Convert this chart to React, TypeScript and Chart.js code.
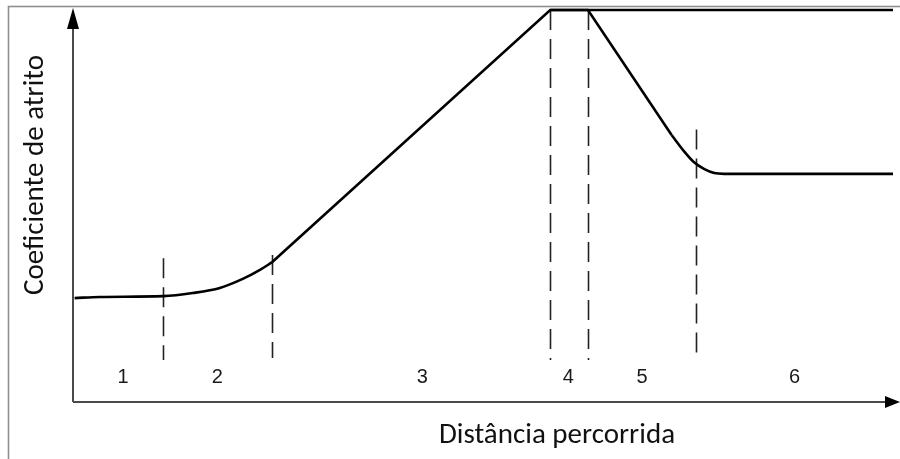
import React, { useEffect, useRef } from "react";
import { Chart, registerables } from "chart.js";

Chart.register(...registerables);

// Friction coefficient vs. distance travelled (arbitrary units: x 0..100, y 0..1)
const riseX = [0.2, 3.3, 11.0, 14.6, 17.9, 20.7, 22.8, 24.3];
const riseY = [0.265, 0.268, 0.27, 0.278, 0.291, 0.314, 0.337, 0.357];

const rampX = [24.3, 58.2, 62.8, 73.0];
const rampY = [0.357, 1.0, 1.0, 0.681];

const settleX = [73.0, 74.5, 75.7, 77.0, 78.2, 79.4, 100];
const settleY = [0.681, 0.64, 0.612, 0.594, 0.584, 0.582, 0.582];

const peakX = [58.2, 100];
const peakY = [1.0, 1.0];

// Stage boundaries (dashed verticals)
const dividerX = [11.0, 24.3, 58.2, 62.8, 76.0];
const dividerTop = [0.367, 0.375, 1.0, 1.0, 0.695];
const dividerBottom = [0.107, 0.112, 0.107, 0.107, 0.107];

// Stage numbers
const stageLabels = ["1", "2", "3", "4", "5", "6"];
const stageX = [6.1, 17.6, 42.6, 60.4, 69.4, 88.0];
const stageY = 0.062;

const yTitle = "Coeficiente de atrito";
const xTitle = "Distância percorrida";

const toPoints = (xs: number[], ys: number[]) => xs.map((x, i) => ({ x, y: ys[i] }));

const titleFont = '29px Calibri, Carlito, "Open Sans", sans-serif';

const decorPlugin = {
  id: "decor",
  beforeDatasetsDraw(chart: any) {
    const { ctx, chartArea, scales } = chart;
    const xs = scales.x;
    const ys = scales.y;
    ctx.save();
    // outer frame
    ctx.strokeStyle = "#8e8e8e";
    ctx.lineWidth = 1.6;
    ctx.strokeRect(8.5, 6.5, 1000, 1000);

    // dashed stage dividers
    ctx.strokeStyle = "#222";
    ctx.lineWidth = 1.6;
    ctx.setLineDash([20, 9]);
    dividerX.forEach((dx, i) => {
      const px = Math.round(xs.getPixelForValue(dx)) + 0.5;
      ctx.beginPath();
      ctx.moveTo(px, ys.getPixelForValue(dividerTop[i]));
      ctx.lineTo(px, ys.getPixelForValue(dividerBottom[i]));
      ctx.stroke();
    });
    ctx.setLineDash([]);

    // axes with arrowheads
    const ox = chartArea.left;
    const oy = chartArea.bottom;
    ctx.strokeStyle = "#4a4a4a";
    ctx.lineWidth = 2;
    ctx.beginPath();
    ctx.moveTo(ox, oy);
    ctx.lineTo(ox, 26);
    ctx.moveTo(ox, oy);
    ctx.lineTo(887, oy);
    ctx.stroke();
    ctx.fillStyle = "#000";
    ctx.beginPath();
    ctx.moveTo(ox, 8);
    ctx.lineTo(ox - 6, 29);
    ctx.lineTo(ox + 6, 29);
    ctx.closePath();
    ctx.fill();
    ctx.beginPath();
    ctx.moveTo(900, oy);
    ctx.lineTo(885, oy - 6);
    ctx.lineTo(885, oy + 6);
    ctx.closePath();
    ctx.fill();

    // stage numbers
    ctx.fillStyle = "#1a1a1a";
    ctx.font = '20px "Liberation Sans", Arial, sans-serif';
    ctx.textAlign = "center";
    ctx.textBaseline = "middle";
    stageLabels.forEach((t, i) => {
      ctx.fillText(t, xs.getPixelForValue(stageX[i]), ys.getPixelForValue(stageY));
    });

    // axis titles
    ctx.fillStyle = "#111";
    ctx.font = titleFont;
    ctx.fillText(xTitle, 557, 436);
    ctx.translate(36, 175);
    ctx.rotate(-Math.PI / 2);
    ctx.fillText(yTitle, 0, 0);
    ctx.restore();
  },
};

export default function App() {
  const canvasRef = useRef<HTMLCanvasElement | null>(null);

  useEffect(() => {
    if (!canvasRef.current) return;
    const line = (xs: number[], ys: number[], smooth: boolean) => ({
      data: toPoints(xs, ys),
      borderColor: "#000",
      borderWidth: 2.6,
      pointRadius: 0,
      fill: false,
      clip: false as any,
      tension: 0,
      cubicInterpolationMode: smooth ? ("monotone" as const) : ("default" as const),
    });
    const chart = new Chart(canvasRef.current, {
      type: "line",
      data: {
        datasets: [
          line(riseX, riseY, true),
          line(rampX, rampY, false),
          line(settleX, settleY, true),
          line(peakX, peakY, false),
        ],
      },
      options: {
        animation: false,
        responsive: false,
        parsing: true,
        layout: { padding: { left: 73, right: 7, top: 10, bottom: 57 } },
        plugins: { legend: { display: false }, tooltip: { enabled: false } },
        scales: {
          x: { type: "linear", min: 0, max: 100, display: false },
          y: { type: "linear", min: 0, max: 1, display: false },
        },
      },
      plugins: [decorPlugin],
    });
    return () => chart.destroy();
  }, []);

  return (
    <div style={{ position: "fixed", left: 0, top: 0, width: 900, height: 459, background: "#fff" }}>
      <canvas ref={canvasRef} width={900} height={459} style={{ width: 900, height: 459 }} />
    </div>
  );
}
